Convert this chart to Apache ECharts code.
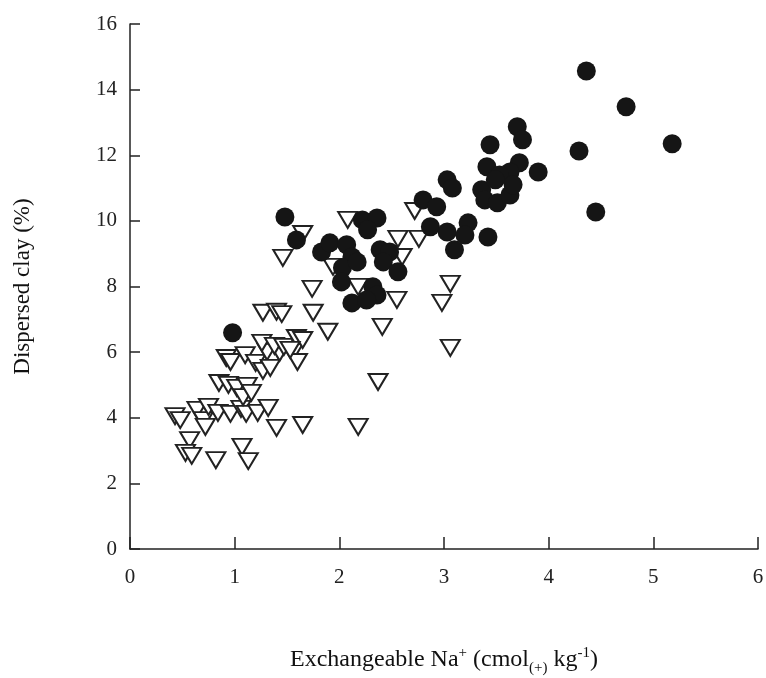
<!DOCTYPE html>
<html>
<head>
<meta charset="utf-8">
<script src="https://cdn.jsdelivr.net/npm/echarts@6/dist/echarts.min.js"></script>
<style>html,body{margin:0;padding:0;background:#fff}#c{width:766px;height:678px}</style>
</head>
<body>
<div id="c"></div>
<script>
// Exchangeable Na+ (x) vs dispersed clay % (y)
const xTicks = [0, 1, 2, 3, 4, 5, 6];
const yTicks = [0, 2, 4, 6, 8, 10, 12, 14, 16];

// open down-triangles
const triX = [0.43,0.48,0.64,0.70,0.75,0.84,0.96,1.06,1.11,1.22,1.32,0.72,1.40,1.65,0.57,0.53,0.59,0.82,1.07,1.13,
  0.85,0.94,1.02,1.12,1.08,1.16,0.92,0.96,1.10,1.20,1.31,1.43,1.56,1.60,1.27,1.26,1.38,1.47,1.59,1.65,
  1.27,1.40,1.45,1.75,1.74,1.89,2.41,2.18,2.37,3.06,2.98,3.06,2.55,1.46,1.65,2.08,2.56,2.60,2.72,2.76,
  1.94,1.34,1.53,2.18];
const triY = [4.05,3.93,4.24,3.93,4.33,4.15,4.12,4.27,4.12,4.15,4.30,3.72,3.69,3.78,3.32,2.93,2.84,2.71,3.11,2.68,
  5.06,5.00,4.91,4.97,4.63,4.76,5.82,5.70,5.91,5.67,6.01,5.98,6.01,5.70,5.43,6.28,6.19,6.16,6.43,6.37,
  7.20,7.23,7.16,7.20,7.93,6.62,6.77,3.72,5.09,6.13,7.50,8.08,7.59,8.87,9.60,10.03,9.45,8.90,10.30,9.45,
  8.60,5.52,6.07,7.99];

// filled circles
const dotX = [0.98,1.48,1.59,1.83,1.91,2.07,2.12,2.03,2.02,2.22,2.36,2.27,2.39,2.48,2.42,2.56,2.32,2.36,2.12,2.26,
  2.17,2.80,2.87,2.93,3.03,3.08,3.03,3.23,3.20,3.10,3.42,3.70,3.75,3.44,3.41,3.72,3.90,3.63,3.53,3.36,
  3.49,3.39,3.51,3.63,3.66,4.36,4.74,4.29,5.18,4.45];
const dotY = [6.59,10.12,9.42,9.05,9.33,9.27,8.90,8.57,8.14,10.03,10.09,9.73,9.12,9.05,8.75,8.45,7.99,7.74,7.50,7.59,
  8.75,10.64,9.82,10.43,11.25,11.00,9.66,9.94,9.57,9.12,9.51,12.87,12.47,12.32,11.65,11.77,11.49,11.49,11.40,10.95,
  11.25,10.64,10.55,10.79,11.10,14.57,13.48,12.13,12.35,10.27];

const triData = triX.map((v, i) => [v, triY[i]]);
const dotData = dotX.map((v, i) => [v, dotY[i]]);

const serif = '"Liberation Serif", "DejaVu Serif", serif';
const chart = echarts.init(document.getElementById('c'), null, {renderer: 'canvas'});
chart.setOption({
  backgroundColor: '#fff',
  animation: false,
  grid: {left: 130, right: 8, top: 24, bottom: 129, containLabel: false, outerBoundsMode: 'none'},
  xAxis: {
    type: 'value', min: xTicks[0], max: xTicks[xTicks.length - 1], interval: 1,
    name: '{a|Exchangeable Na}{sup|+}{a| (cmol}{sub|(+)}{a| kg}{sup|-1}{a|)}',
    nameLocation: 'middle', nameGap: 95,
    nameTextStyle: {
      rich: {
        a: {fontFamily: serif, fontSize: 24, color: '#111', lineHeight: 32, verticalAlign: 'middle'},
        sup: {fontFamily: serif, fontSize: 15, color: '#111', lineHeight: 32, verticalAlign: 'top', padding: [2, 0, 0, 0]},
        sub: {fontFamily: serif, fontSize: 15, color: '#111', lineHeight: 32, verticalAlign: 'bottom', padding: [0, 0, 0, 0]}
      }
    },
    axisLine: {show: true, onZero: false, lineStyle: {color: '#222', width: 1.5}},
    axisTick: {show: true, inside: true, length: 12, lineStyle: {color: '#222', width: 1.5}},
    axisLabel: {margin: 18, fontFamily: serif, fontSize: 21, color: '#222',
      formatter: v => xTicks.includes(v) ? String(v) : ''},
    splitLine: {show: false}
  },
  yAxis: {
    type: 'value', min: yTicks[0], max: yTicks[yTicks.length - 1], interval: 2,
    name: 'Dispersed clay (%)', nameLocation: 'middle', nameGap: 96, nameRotate: 90,
    nameTextStyle: {fontFamily: serif, fontSize: 23, color: '#111'},
    axisLine: {show: true, onZero: false, lineStyle: {color: '#222', width: 1.5}},
    axisTick: {show: true, inside: true, length: 10, lineStyle: {color: '#222', width: 1.5}},
    axisLabel: {margin: 13, fontFamily: serif, fontSize: 21, color: '#222',
      formatter: v => yTicks.includes(v) ? String(v) : ''},
    splitLine: {show: false}
  },
  series: [
    {
      type: 'scatter', name: 'triangles', data: triData,
      symbol: 'triangle', symbolRotate: 180, symbolSize: [19, 16],
      itemStyle: {color: '#fff', borderColor: '#222', borderWidth: 2, opacity: 1},
      z: 2
    },
    {
      type: 'scatter', name: 'circles', data: dotData,
      symbol: 'circle', symbolSize: 19,
      itemStyle: {color: '#151515', opacity: 1},
      z: 3
    }
  ]
});
</script>
</body>
</html>
